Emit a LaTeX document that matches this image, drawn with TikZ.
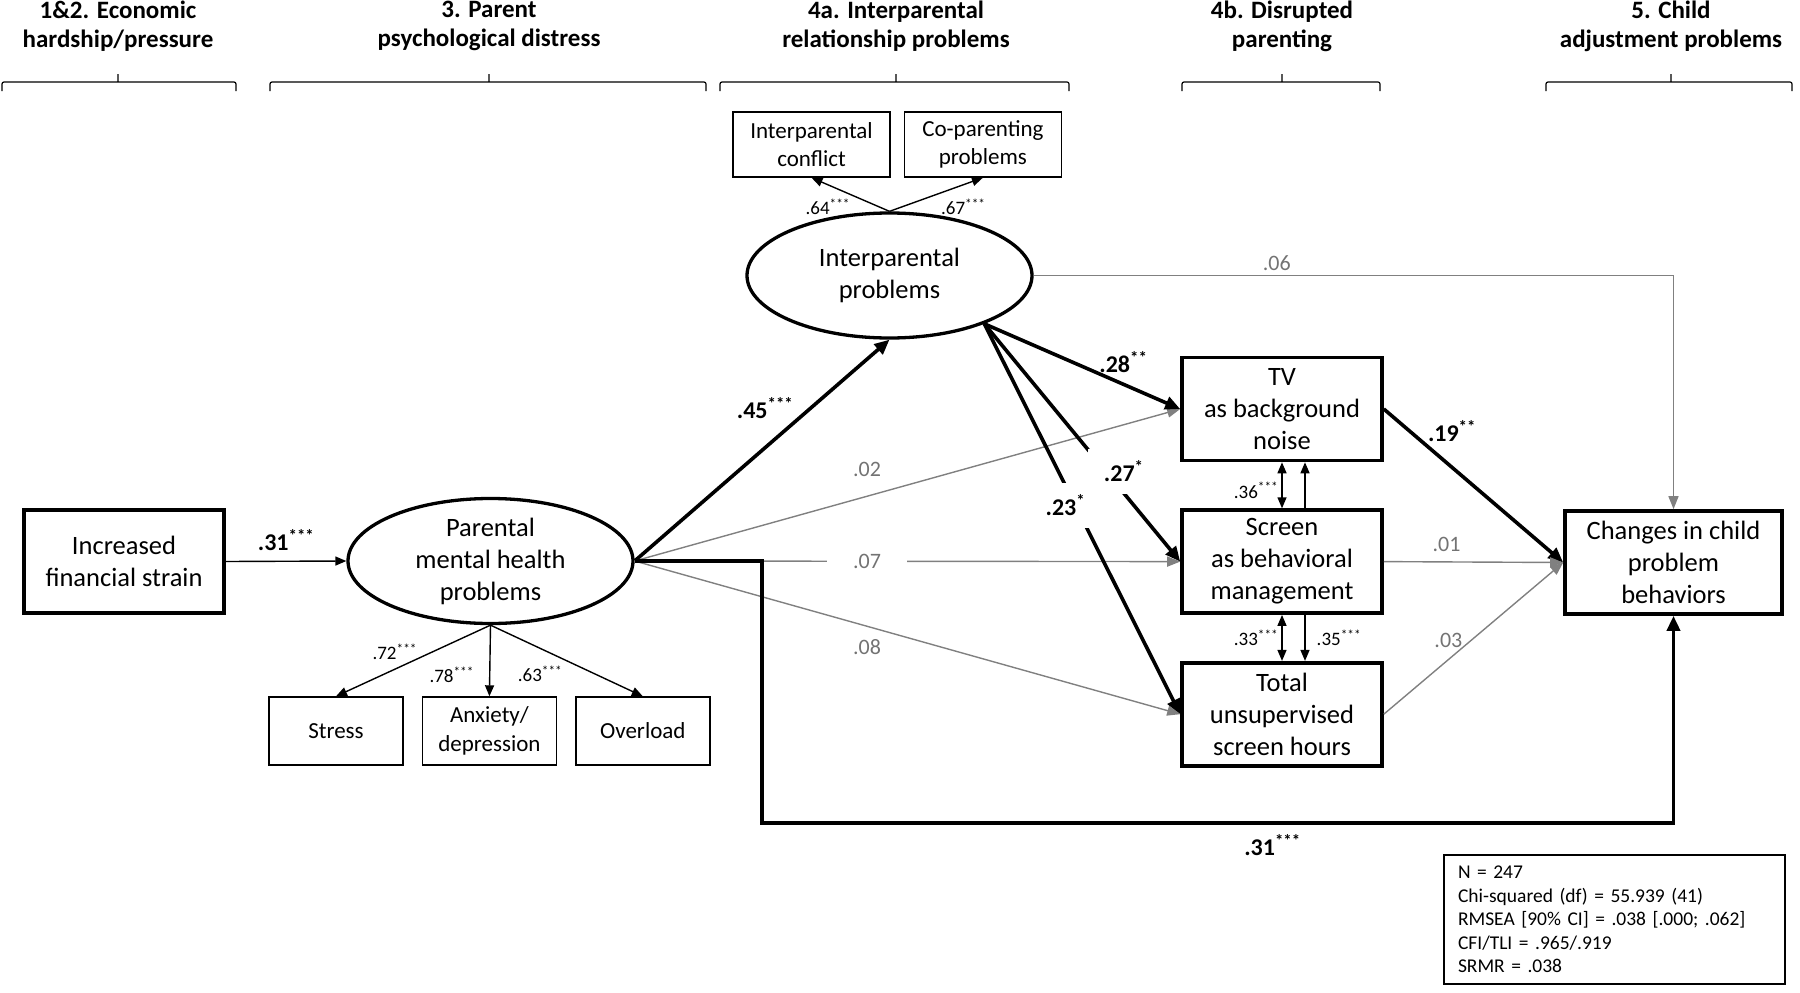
\documentclass[tikz,border=0pt]{standalone}
\usepackage{fontspec}
\setmainfont{Carlito}
\usepackage{xcolor}
\usepackage{tikz}
\usetikzlibrary{shapes,arrows.meta,positioning}

\definecolor{pathgray}{RGB}{128,128,128}
\definecolor{textgray}{RGB}{115,115,115}

\newcommand{\stars}[1]{\textsuperscript{#1}}

\begin{document}
\begin{tikzpicture}[
  x=1pt, y=-1pt,
  >={Triangle[length=11pt,width=9pt]},
  obs/.style={rectangle, draw=black, line width=3.6pt, inner sep=4pt,
              minimum width=200pt, minimum height=103pt, align=center,
              font=\fontsize{26.5}{32}\selectfont},
  ind/.style={rectangle, draw=black, line width=1.4pt, inner sep=3pt,
              minimum width=134pt, minimum height=68pt, align=center,
              font=\fontsize{23}{28.5}\selectfont},
  latent/.style={ellipse, draw=black, line width=3.3pt, inner sep=0pt,
                 minimum width=285pt, minimum height=125pt, align=center,
                 font=\fontsize{26.5}{32}\selectfont},
  header/.style={anchor=north, inner sep=0pt, align=center,
                 font=\fontsize{25}{29}\selectfont\bfseries},
  brack/.style={line width=1.2pt, rounded corners=2pt},
  plainline/.style={->, line width=1.4pt},
  sigline/.style={->, line width=3.6pt, >={Triangle[length=15pt,width=13pt]}},
  nsline/.style={->, line width=1.4pt, draw=pathgray,
                 >={Triangle[length=13pt,width=10pt]}},
  coef/.style={inner sep=1pt, font=\fontsize{24}{28}\selectfont\bfseries},
  nscoef/.style={inner sep=1pt, text=textgray, font=\fontsize{22}{26}\selectfont},
  loadlab/.style={inner sep=1pt, font=\fontsize{19}{22}\selectfont},
  whitegap/.style={fill=white, inner xsep=16pt, inner ysep=12pt}
]
\useasboundingbox (0,0) rectangle (1800,993);

% --- Column headers ---
\node[header] (col1) at (118,1)  {1\&2. Economic\\hardship/pressure};
\node[header] (col2) at (489,1)  {3. Parent\\psychological distress};
\node[header] (col3) at (896,1)  {4a. Interparental\\relationship problems};
\node[header] (col4) at (1282,1) {4b. Disrupted\\parenting};
\node[header] (col5) at (1671,1) {5. Child\\adjustment problems};

\draw[brack] (2,91) -- (2,82) -- (236,82) -- (236,91) (118,82) -- (118,74);
\draw[brack] (270,91) -- (270,82) -- (706,82) -- (706,91) (489,82) -- (489,74);
\draw[brack] (720,91) -- (720,82) -- (1069,82) -- (1069,91) (896,82) -- (896,74);
\draw[brack] (1182,91) -- (1182,82) -- (1380,82) -- (1380,91) (1282,82) -- (1282,74);
\draw[brack] (1546,91) -- (1546,82) -- (1792,82) -- (1792,91) (1671,82) -- (1671,74);

% --- Variables ---
\node[obs]                        (strain)   at (124,561.5) {Increased\\financial strain};
\node[latent]                     (mental)   at (490.5,561) {Parental\\mental health\\problems};
\node[ind]                        (stress)   at (336,731)   {Stress};
\node[ind, right=18pt of stress]  (anxiety)  {Anxiety/\\depression};
\node[ind, right=18pt of anxiety] (overload) {Overload};

\node[latent]                     (inter)    at (889.5,275.5) {Interparental\\problems};
\node[ind, minimum width=157pt, minimum height=65pt] (conflict) at (811.5,144.5) {Interparental\\conflict};
\node[ind, minimum width=157pt, minimum height=65pt, right=13pt of conflict] (coparent) {Co-parenting\\problems};

\node[obs]                        (tv)       at (1282,409) {TV\\as background\\noise};
\node[obs, below=46pt of tv]      (screen)   {Screen\\as behavioral\\management};
\node[obs, below=46pt of screen]  (total)    {Total\\unsupervised\\screen hours};

\node[obs, minimum width=217pt]   (child)    at (1673.5,562.5) {Changes in child\\problem\\behaviors};

\node[draw, line width=1.2pt, inner xsep=14pt, text width=313pt, minimum height=129pt,
      align=left, font=\fontsize{19.5}{23.5}\selectfont] (fit) at (1614.5,919.5)
  {N = 247\\Chi-squared (df) = 55.939 (41)\\RMSEA [90\% CI] = .038 [.000; .062]\\CFI/TLI = .965/.919\\SRMR = .038};

% --- Loadings ---
\draw[plainline] (mental.south) -- node[loadlab, pos=.38, xshift=-37pt] {.72\stars{***}} (stress.north);
\draw[plainline] (mental.south) -- node[loadlab, pos=.7, xshift=-38pt]  {.78\stars{***}} (anxiety.north);
\draw[plainline] (mental.south) -- node[loadlab, pos=.68, xshift=-54pt] {.63\stars{***}} (overload.north);
\draw[plainline] (inter.north) -- node[loadlab, pos=.79, yshift=-22pt] {.64\stars{***}} (conflict.south);
\draw[plainline] (inter.north) -- node[loadlab, pos=.79, yshift=-22pt] {.67\stars{***}} (coparent.south);

% --- Paths ---
\draw[plainline] (strain.east) -- node[coef, yshift=21pt] {.31\stars{***}} (mental.west);
\draw[sigline] (mental.east) -- node[coef, xshift=3pt, yshift=42pt] {.45\stars{***}} (inter.south);
\draw[nsline] (mental.east) -- node[nscoef, pos=.426, yshift=27pt] {.02} (tv.west);
\draw[nsline] (mental.east) -- node[nscoef, pos=.426, fill=white, inner xsep=26pt] {.07} (screen.west);
\draw[nsline] (mental.east) -- node[nscoef, pos=.426, yshift=-21pt] {.08} (total.west);

\draw[sigline] (inter.-27) -- node[coef, pos=.71, yshift=22pt] {.28\stars{**}} (tv.west);
\draw[sigline] (inter.-27) -- node[coef, whitegap, pos=.62, xshift=18pt] {.27\stars{*}} (screen.west);
\draw[sigline] (inter.-27) -- node[coef, whitegap, pos=.465, xshift=-10pt] {.23\stars{*}} (total.west);
\draw[nsline] (inter.east) -| node[nscoef, pos=.19, yshift=12pt] {.06} (child.north);

\draw[sigline] (tv.east) -- node[coef, pos=.38, yshift=36pt] {.19\stars{**}} (child.west);
\draw[nsline] (screen.east) -- node[nscoef, pos=.35, yshift=17pt] {.01} (child.west);
\draw[nsline] (total.east) -- node[nscoef, pos=.36, yshift=19pt] {.03} (child.west);

\coordinate (detour) at (762,823);
\draw[sigline] (mental.east) -| (detour) -| node[coef, pos=.28, yshift=-22pt] {.31\stars{***}} (child.south);

% --- Residual links ---
\draw[plainline, <->] (screen.north) -- node[loadlab, left=2pt, yshift=-5pt] {.36\stars{***}} (tv.south);
\draw[plainline] ([xshift=23pt]screen.north) -- ([xshift=23pt]tv.south);
\draw[plainline, <->] (screen.south) -- node[loadlab, left=2pt] {.33\stars{***}} (total.north);
\draw[plainline] ([xshift=23pt]screen.south) -- node[loadlab, right=10pt] {.35\stars{***}} ([xshift=23pt]total.north);

\end{tikzpicture}
\end{document}
